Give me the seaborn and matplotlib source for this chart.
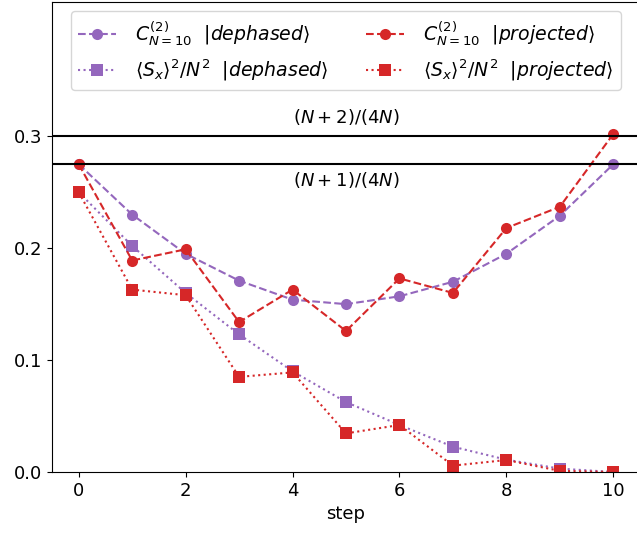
import matplotlib
matplotlib.use("Agg")
import matplotlib.pyplot as plt
import seaborn as sns
import numpy as np
import pandas as pd

steps = np.arange(11)
c2_dephased = [0.275, 0.230, 0.195, 0.171, 0.154, 0.150, 0.157, 0.170, 0.195, 0.229, 0.275]
c2_projected = [0.275, 0.189, 0.199, 0.134, 0.163, 0.126, 0.173, 0.160, 0.218, 0.237, 0.302]
sx_dephased = [0.250, 0.202, 0.160, 0.123, 0.090, 0.0625, 0.042, 0.0226, 0.011, 0.003, 0.0]
sx_projected = [0.250, 0.163, 0.158, 0.085, 0.089, 0.0345, 0.042, 0.0057, 0.0107, 0.001, 0.0]

N = 10
bound_hi = (N + 2) / (4 * N)
bound_lo = (N + 1) / (4 * N)

sns.set_style("ticks", {"axes.edgecolor": "black", "text.color": "black",
                        "xtick.color": "black", "ytick.color": "black",
                        "axes.labelcolor": "black"})
plt.rcParams["font.size"] = 13

fig = plt.figure(figsize=(6.37, 5.35), dpi=100)
ax = fig.add_axes([52 / 637, 1 - 472 / 535, 588 / 637, 470 / 535])

purple = "#9467bd"
red = "#d62728"

sns.lineplot(x=steps, y=c2_dephased, ax=ax, color=purple, linestyle="--", marker="o",
             markersize=8, markeredgewidth=0, lw=1.5,
             label=r"$C^{(2)}_{N=10}$  $|dephased\rangle$")
sns.lineplot(x=steps, y=sx_dephased, ax=ax, color=purple, linestyle=":", marker="s",
             markersize=8, markeredgewidth=0, lw=1.5,
             label=r"$\langle S_x\rangle^2/N^2$  $|dephased\rangle$")
sns.lineplot(x=steps, y=c2_projected, ax=ax, color=red, linestyle="--", marker="o",
             markersize=8, markeredgewidth=0, lw=1.5,
             label=r"$C^{(2)}_{N=10}$  $|projected\rangle$")
sns.lineplot(x=steps, y=sx_projected, ax=ax, color=red, linestyle=":", marker="s",
             markersize=8, markeredgewidth=0, lw=1.5,
             label=r"$\langle S_x\rangle^2/N^2$  $|projected\rangle$")

ax.axhline(bound_hi, color="black", lw=1.5)
ax.axhline(bound_lo, color="black", lw=1.5)
ax.text(5, 0.317, r"$(N+2)/(4N)$", ha="center", va="center", fontsize=13)
ax.text(5, 0.261, r"$(N+1)/(4N)$", ha="center", va="center", fontsize=13)

ax.set_xlim(-0.5, 10.5)
ax.set_ylim(0, 0.42)
ax.set_xticks([0, 2, 4, 6, 8, 10])
ax.set_yticks([0.0, 0.1, 0.2, 0.3])
ax.set_xlabel("step", fontsize=13)
ax.tick_params(labelsize=13)

ax.legend(loc="upper center", ncol=2, fontsize=13.6, bbox_to_anchor=(0.5, 1.0),
          columnspacing=2.0, handletextpad=1.0, handlelength=2.0)

fig.savefig("out.png", dpi=100)
